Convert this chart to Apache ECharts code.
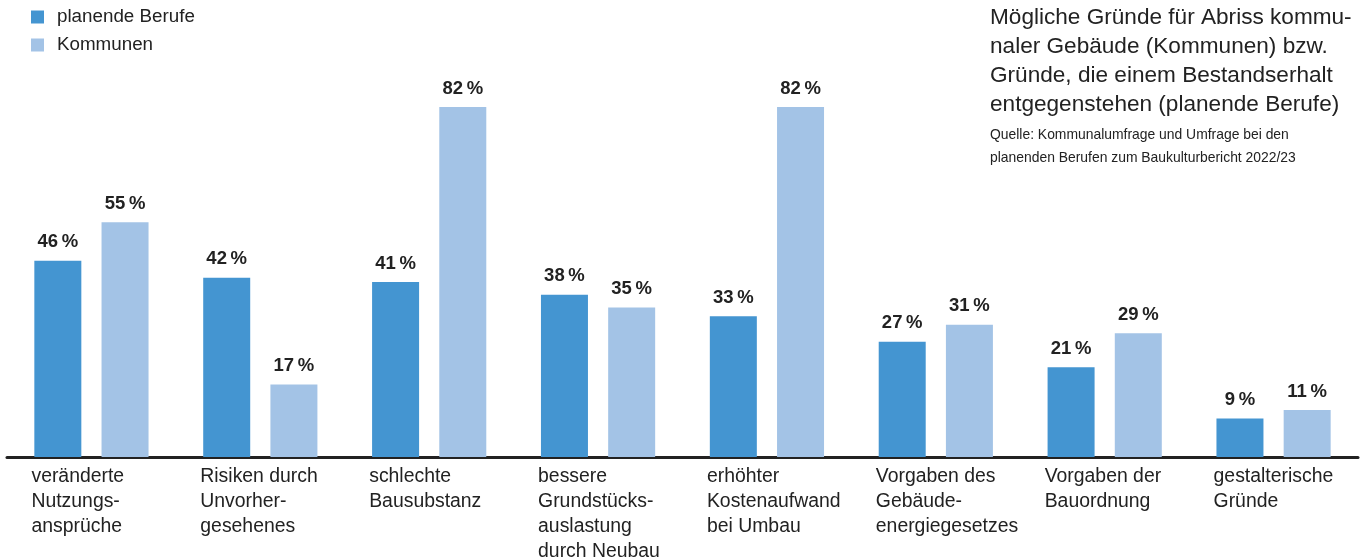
<!DOCTYPE html>
<html>
<head>
<meta charset="utf-8">
<script src="https://cdn.jsdelivr.net/npm/echarts@6/dist/echarts.min.js"></script>
<style>
  html, body { margin: 0; padding: 0; background: #fff; }
  #chart { width: 1360px; height: 560px; }
</style>
</head>
<body>
<div id="chart"></div>
<script>
const categories = [
  'veränderte\nNutzungs-\nansprüche',
  'Risiken durch\nUnvorher-\ngesehenes',
  'schlechte\nBausubstanz',
  'bessere\nGrundstücks-\nauslastung\ndurch Neubau',
  'erhöhter\nKostenaufwand\nbei Umbau',
  'Vorgaben des\nGebäude-\nenergiegesetzes',
  'Vorgaben der\nBauordnung',
  'gestalterische\nGründe'
];
const planende = [46, 42, 41, 38, 33, 27, 21, 9];
const kommunen = [55, 17, 82, 35, 82, 31, 29, 11];

const font = '"Liberation Sans", Arial, sans-serif';
const ink = '#222';

const chart = echarts.init(document.getElementById('chart'));

const valueLabel = {
  show: true,
  position: 'top',
  distance: 9,
  color: ink,
  fontFamily: font,
  fontSize: 18.5,
  fontWeight: 'bold',
  formatter: p => p.value + '\u2009%'
};

const option = {
  animation: false,
  textStyle: { fontFamily: font, color: ink },
  title: {
    text: 'Mögliche Gründe für Abriss kommu-\nnaler Gebäude (Kommunen) bzw.\nGründe, die einem Bestandserhalt\nentgegenstehen (planende Berufe)',
    subtext: 'Quelle: Kommunalumfrage und Umfrage bei den\nplanenden Berufen zum Baukulturbericht 2022/23',
    left: 990,
    top: 3,
    padding: 0,
    itemGap: 5,
    textStyle: { fontFamily: font, fontSize: 22.6, fontWeight: 'normal', lineHeight: 29, color: ink },
    subtextStyle: { fontFamily: font, fontSize: 13.9, lineHeight: 23, color: ink }
  },
  legend: {
    orient: 'vertical',
    left: 31,
    top: 7,
    padding: 0,
    icon: 'rect',
    itemWidth: 13,
    itemHeight: 13,
    itemGap: 8,
    textStyle: { fontFamily: font, fontSize: 18.8, lineHeight: 20, color: ink, padding: [0, 0, 0, 8] }
  },
  grid: { left: 7, right: 2, top: 30.2, bottom: 103, outerBoundsMode: 'none' },
  xAxis: {
    type: 'category',
    data: categories,
    axisLine: { lineStyle: { color: ink, width: 3 } },
    axisTick: { show: false },
    axisLabel: {
      interval: 0,
      margin: 7,
      formatter: v => v.split('\n').map(s => '{a|' + s + '}').join('\n'),
      rich: {
        a: { width: 120, align: 'left', fontFamily: font, fontSize: 19.4, lineHeight: 25, color: ink }
      }
    }
  },
  yAxis: {
    type: 'value',
    min: 0,
    max: 100,
    show: false,
    splitLine: { show: false }
  },
  series: [
    {
      name: 'planende Berufe',
      type: 'bar',
      data: planende,
      barWidth: 47,
      barGap: '43%',
      itemStyle: { color: '#4495d1' },
      label: valueLabel
    },
    {
      name: 'Kommunen',
      type: 'bar',
      data: kommunen,
      barWidth: 47,
      itemStyle: { color: '#a3c3e6' },
      label: valueLabel
    }
  ]
};

chart.setOption(option);
</script>
</body>
</html>
